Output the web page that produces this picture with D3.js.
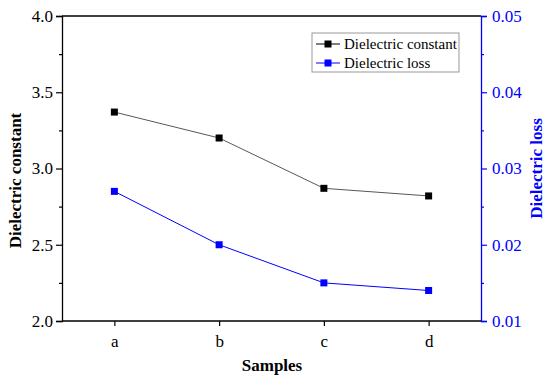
<!DOCTYPE html>
<html><head><meta charset="utf-8">
<script src="https://cdn.jsdelivr.net/npm/d3@7"></script>
<style>body{margin:0;background:#fff}svg{display:block}</style>
</head><body>
<script>
const categories = ["a","b","c","d"];
const dielectricConstant = [3.37, 3.20, 2.87, 2.82];
const dielectricLoss = [0.027, 0.020, 0.015, 0.014];
const leftTicks = [2.0, 2.5, 3.0, 3.5, 4.0];
const rightTicks = [0.01, 0.02, 0.03, 0.04, 0.05];
const seriesNames = ["Dielectric constant", "Dielectric loss"];

const W = 550, H = 382;
const m = {left: 62, right: 69, top: 16, bottom: 61};
const svg = d3.select("body").append("svg").attr("width", W).attr("height", H)
  .style("font-family", "'Liberation Serif','Times New Roman',serif");
const x0 = m.left, x1 = W - m.right, y0 = H - m.bottom, y1 = m.top;
const x = d3.scalePoint().domain(categories).range([x0, x1]).padding(0.5);
const yL = d3.scaleLinear().domain([2.0, 4.0]).range([y0, y1]);
const yR = d3.scaleLinear().domain([0.01, 0.05]).range([y0, y1]);
const blue = "#0000ff";

// Left axis
const gL = svg.append("g").attr("transform", `translate(${x0},0)`)
  .call(d3.axisLeft(yL).tickValues(leftTicks).tickFormat(d3.format(".1f")).tickSize(6).tickPadding(3));
svg.append("g").attr("transform", `translate(${x0},0)`)
  .call(d3.axisLeft(yL).tickValues(d3.range(2.25, 4, 0.5)).tickFormat("").tickSize(3))
  .select(".domain").remove();
// Right axis
const gR = svg.append("g").attr("transform", `translate(${x1},0)`)
  .call(d3.axisRight(yR).tickValues(rightTicks).tickFormat(d3.format(".2f")).tickSize(6).tickPadding(5));
const gRm = svg.append("g").attr("transform", `translate(${x1},0)`)
  .call(d3.axisRight(yR).tickValues(d3.range(0.015, 0.05, 0.01)).tickFormat("").tickSize(3));
gRm.select(".domain").remove();
// Bottom axis
const gB = svg.append("g").attr("transform", `translate(0,${y0})`)
  .call(d3.axisBottom(x).tickSize(5).tickPadding(9));
gB.select(".domain").attr("d", `M${x0},0H${x1}`);
// Top border
svg.append("line").attr("x1", x0).attr("x2", x1).attr("y1", y1).attr("y2", y1)
  .attr("stroke", "#000").attr("stroke-width", 1.3);

svg.selectAll(".domain").attr("stroke-width", 1.3);
svg.selectAll(".tick line").attr("stroke-width", 1.2);
svg.selectAll(".tick text").attr("font-size", 17).attr("font-family", "'Liberation Serif',serif").attr("fill", "#000");
gR.selectAll(".tick text").attr("fill", blue);
gR.selectAll(".domain, .tick line").attr("stroke", blue);
gRm.selectAll(".tick line").attr("stroke", blue);

// Series
const lineC = d3.line().x((d,i) => x(categories[i])).y(d => yL(d));
const lineL = d3.line().x((d,i) => x(categories[i])).y(d => yR(d));
svg.append("path").attr("d", lineC(dielectricConstant)).attr("fill", "none")
  .attr("stroke", "#444").attr("stroke-width", 0.9);
svg.append("path").attr("d", lineL(dielectricLoss)).attr("fill", "none")
  .attr("stroke", blue).attr("stroke-width", 1);
const ms = 7;
svg.selectAll(".mc").data(dielectricConstant).enter().append("rect")
  .attr("x", (d,i) => x(categories[i]) - ms/2).attr("y", d => yL(d) - ms/2)
  .attr("width", ms).attr("height", ms).attr("fill", "#000");
svg.selectAll(".ml").data(dielectricLoss).enter().append("rect")
  .attr("x", (d,i) => x(categories[i]) - ms/2).attr("y", d => yR(d) - ms/2)
  .attr("width", ms).attr("height", ms).attr("fill", blue);

// Axis titles
svg.append("text").attr("x", 272).attr("y", 371).attr("text-anchor", "middle")
  .attr("font-weight", "bold").attr("font-size", 17).text("Samples");
svg.append("text").attr("transform", `translate(21,${(y0+y1)/2+12}) rotate(-90)`)
  .attr("text-anchor", "middle").attr("font-weight", "bold").attr("font-size", 17).text("Dielectric constant");
svg.append("text").attr("transform", `translate(542,${(y0+y1)/2}) rotate(-90)`)
  .attr("text-anchor", "middle").attr("font-weight", "bold").attr("font-size", 17)
  .attr("fill", blue).text("Dielectric loss");

// Legend
const lg = svg.append("g");
lg.append("rect").attr("x", 312).attr("y", 33).attr("width", 147).attr("height", 39)
  .attr("fill", "#fff").attr("stroke", "#999").attr("stroke-width", 1);
const colors = ["#000", blue];
seriesNames.forEach((n, i) => {
  const cy = 44 + i * 19;
  lg.append("line").attr("x1", 316).attr("x2", 340).attr("y1", cy).attr("y2", cy)
    .attr("stroke", colors[i]).attr("stroke-width", 1);
  lg.append("rect").attr("x", 328 - 3.5).attr("y", cy - 3.5).attr("width", 7).attr("height", 7).attr("fill", colors[i]);
  lg.append("text").attr("x", 344).attr("y", cy + 5).attr("font-size", 15).attr("fill", "#000").text(n);
});
</script>
</body></html>
